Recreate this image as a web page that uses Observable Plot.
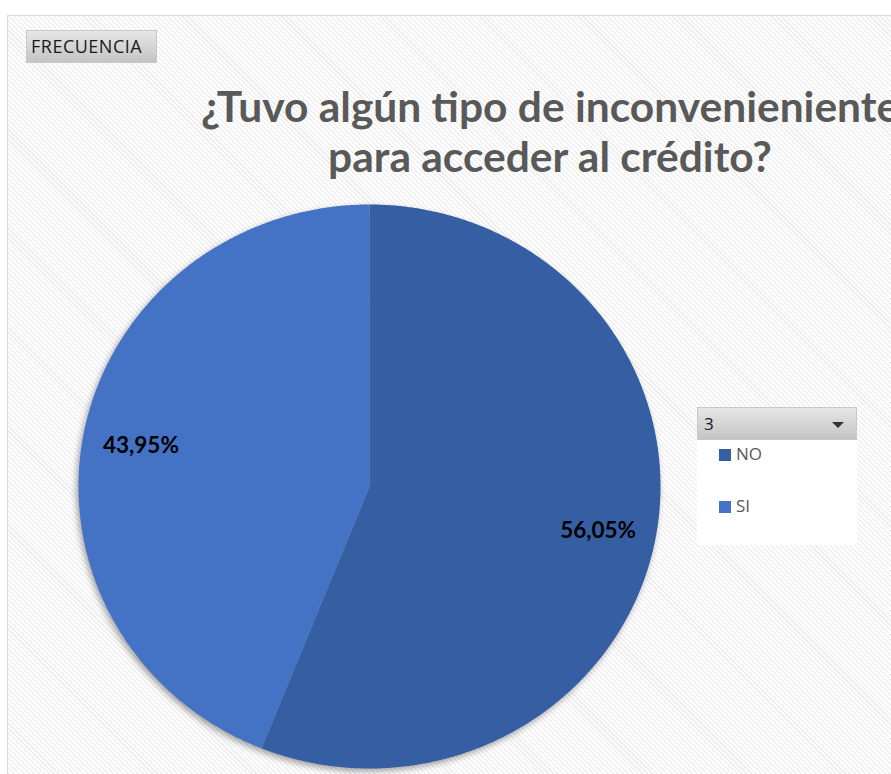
<!DOCTYPE html>
<html>
<head>
<meta charset="utf-8">
<script src="https://cdn.jsdelivr.net/npm/d3@7"></script>
<script src="https://cdn.jsdelivr.net/npm/@observablehq/plot@0.6"></script>
<style>
  html, body { margin: 0; padding: 0; background: #fff; overflow: hidden; }
  #wrap { position: relative; width: 891px; height: 774px; overflow: hidden; background: #fff; }
  #area {
    position: absolute; left: 7px; top: 15px; width: 1000px; height: 800px;
    border: 1.5px solid #d9d9d9;
    background: repeating-linear-gradient(45deg, #ffffff 0px, #ffffff 2px, #efefef 2px, #efefef 3.5px);
  }
  #chart { position: absolute; left: 0; top: 0; }
  #chart svg g[aria-label="line"] { filter: drop-shadow(-2px 3px 3px rgba(0,0,0,0.35)); }
  .btn {
    position: absolute; box-sizing: border-box;
    background: linear-gradient(#e6e6e6, #c4c4c4);
    border: 1px solid #c8c8c8;
    font-family: "Open Sans", sans-serif; color: #1a1a1a;
  }
  #freq { left: 26px; top: 30px; width: 131px; height: 33px; font-size: 18px; line-height: 31px; padding-left: 4px; letter-spacing: 0.5px; }
  #title {
    position: absolute; left: 0; top: 81px; width: 1100px; text-align: center;
    font-family: Lato, sans-serif; font-weight: bold; font-size: 42.5px; line-height: 50px;
    color: #595959; white-space: nowrap;
  }
  #legend { position: absolute; left: 697px; top: 407px; width: 160px; height: 138px; background: #fff; }
  #leghead { left: 697px; top: 407px; width: 160px; height: 33px; font-size: 17px; line-height: 32px; padding-left: 6px; }
  #tri { position: absolute; right: 12px; top: 14px; width: 0; height: 0; border-left: 6px solid transparent; border-right: 6px solid transparent; border-top: 6px solid #333; }
  .item { position: absolute; left: 22px; font-family: "Open Sans", sans-serif; font-size: 17px; color: #595959; line-height: 20px; }
  .sw { display: inline-block; width: 12px; height: 12px; margin-right: 5px; vertical-align: -1px; }
</style>
</head>
<body>
<div id="wrap">
  <div id="area"></div>
  <div id="chart"></div>
  <div id="title"></div>
  <div class="btn" id="freq"></div>
  <div id="legend"></div>
  <div class="btn" id="leghead"><span id="headtxt"></span><div id="tri"></div></div>
</div>
<script>
// ---- data ----
const categories = ["NO", "SI"];
const values = [56.05, 43.95];
const valueLabels = ["56,05%", "43,95%"];
const colors = ["#365fa3", "#4472c4"];
const titleLines = ["¿Tuvo algún tipo de inconvenieniente", "para acceder al crédito?"];
const buttonLabel = "FRECUENCIA";
const legendHeader = "3";

// ---- geometry from data ----
const pie = d3.pie().sort(null).value(d => d.value);
const rows = categories.map((c, i) => ({key: c, value: values[i], label: valueLabels[i]}));
const arcs = pie(rows);
const pts = [];
const labelPts = [];
for (const a of arcs) {
  pts.push({key: a.data.key, x: 0, y: 0});
  const n = Math.max(2, Math.ceil((a.endAngle - a.startAngle) / (Math.PI / 360)));
  for (let k = 0; k <= n; k++) {
    const t = a.startAngle + (a.endAngle - a.startAngle) * k / n;
    pts.push({key: a.data.key, x: Math.sin(t), y: Math.cos(t)});
  }
  pts.push({key: a.data.key, x: 0, y: 0});
  const m = (a.startAngle + a.endAngle) / 2;
  labelPts.push({label: a.data.label, x: 0.8 * Math.sin(m), y: 0.8 * Math.cos(m)});
}

const plot = Plot.plot({
  width: 891,
  height: 774,
  margin: 0,
  x: {domain: [-1, 1], range: [78, 660], axis: null},
  y: {domain: [-1, 1], range: [768, 204], axis: null},
  color: {domain: categories, range: colors},
  style: {background: "transparent", overflow: "visible"},
  marks: [
    Plot.line(pts, {x: "x", y: "y", z: "key", fill: "key", stroke: "none", curve: "linear"}),
    Plot.text(labelPts, {x: "x", y: "y", text: "label", fill: "#000", fontSize: 22.5, fontWeight: "bold", fontFamily: "Lato, sans-serif", dy: 2})
  ]
});
document.getElementById("chart").appendChild(plot);

// ---- html text ----
document.getElementById("title").innerHTML = titleLines.join("<br>");
document.getElementById("freq").textContent = buttonLabel;
document.getElementById("headtxt").textContent = legendHeader;
const legend = document.getElementById("legend");
categories.forEach((c, i) => {
  const d = document.createElement("div");
  d.className = "item";
  d.style.top = (37 + i * 52) + "px";
  d.innerHTML = `<span class="sw" style="background:${colors[i]}"></span>${c}`;
  legend.appendChild(d);
});
</script>
</body>
</html>
